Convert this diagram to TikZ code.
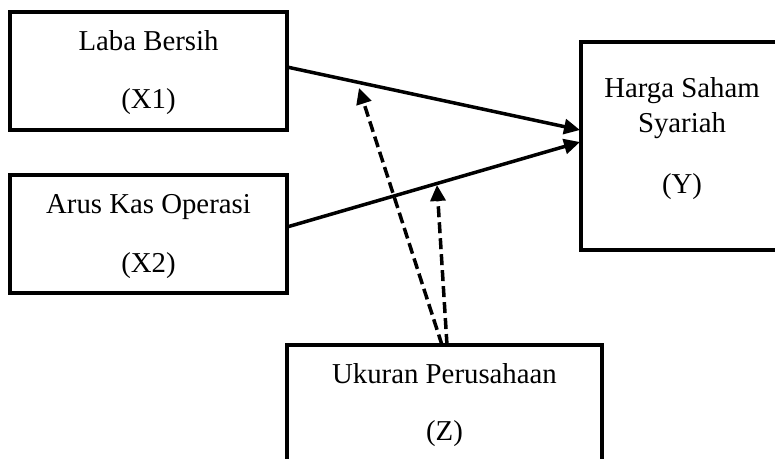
\documentclass[tikz,border=0pt]{standalone}
\usepackage{fontspec}
\setmainfont{Liberation Serif}
\usetikzlibrary{arrows.meta}
\begin{document}
\begin{tikzpicture}[x=1pt,y=-1pt,
  box/.style={draw=black, line width=3.5pt, inner sep=0pt, fill=white},
  lbl/.style={anchor=base, inner sep=0pt, font=\fontsize{28.8}{34}\selectfont},
  solidarrow/.style={line width=3.5pt, -{Triangle[length=16pt,width=15pt]}},
  dasharrow/.style={line width=3.5pt, dash pattern=on 11pt off 5pt, -{Triangle[length=16pt,width=15pt]}}]
\useasboundingbox (0,0) rectangle (775,458);
\clip (0,0) rectangle (775,458);
% boxes
\node[box, minimum width=277pt, minimum height=118pt] (x1) at (148.5,71) {};
\node[box, minimum width=277pt, minimum height=118pt] (x2) at (148.5,234) {};
\node[box, minimum width=204pt, minimum height=208pt] (yb) at (683,146) {};
\node[box, minimum width=315pt, minimum height=130pt] (zb) at (444.5,410) {};
% labels
\node[lbl] (t1a) at (148.5,50) {Laba Bersih};
\node[lbl] (t1b) at (148.5,108) {(X1)};
\node[lbl] (t2a) at (148.5,213) {Arus Kas Operasi};
\node[lbl] (t2b) at (148.5,272) {(X2)};
\node[lbl] (tya) at (682,97) {Harga Saham};
\node[lbl] (tyb) at (682,132) {Syariah};
\node[lbl] (tyc) at (682,193) {(Y)};
\node[lbl] (tza) at (444.5,383) {Ukuran Perusahaan};
\node[lbl] (tzb) at (444.5,440) {(Z)};
% connector points
\coordinate (s1) at (287,67);
\coordinate (s2) at (287,227);
\coordinate (e1) at (580,130);
\coordinate (e2) at (580,142);
\coordinate (m1) at (359,88);
\coordinate (m2) at (437,185);
\coordinate (z1) at (442,345);
\coordinate (z2) at (447,345);
% connectors
\draw[solidarrow] (s1) -- (e1);
\draw[solidarrow] (s2) -- (e2);
\draw[dasharrow] (z1) -- (m1);
\draw[dasharrow] (z2) -- (m2);
\end{tikzpicture}
\end{document}
